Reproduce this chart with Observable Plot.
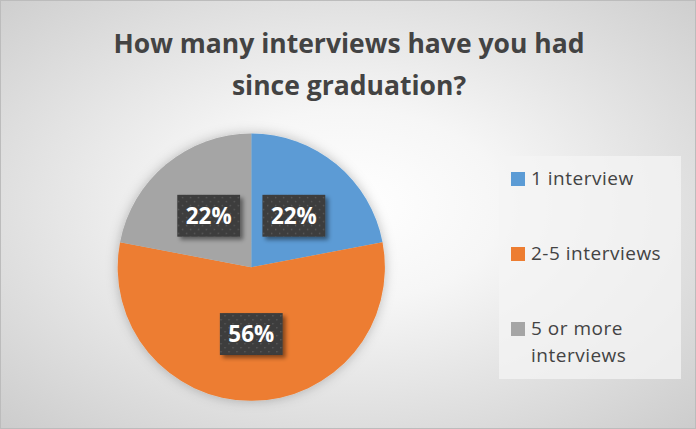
<!DOCTYPE html>
<html>
<head>
<meta charset="utf-8">
<script src="https://cdn.jsdelivr.net/npm/d3@7"></script>
<script src="https://cdn.jsdelivr.net/npm/@observablehq/plot@0.6"></script>
<style>
  body { margin: 0; background: #fff; }
  #chart {
    position: relative; width: 694px; height: 427px; overflow: hidden;
    border: 1px solid #bcbcbc;
    background: radial-gradient(ellipse 75% 75% at 50% 48%, #ffffff 0%, #f6f6f6 30%, #e0e0e0 65%, #cacaca 100%);
    font-family: "Open Sans", "Noto Sans", sans-serif;
  }
  #title {
    position: absolute; left: 0; top: 21px; width: 696px; text-align: center;
    font-weight: 700; font-size: 26.5px; line-height: 42px; color: #434343;
  }
  #legend {
    position: absolute; left: 498px; top: 155px; width: 182px; height: 223px;
    background: rgba(244,244,244,0.75);
  }
  .item { position: absolute; left: 12px; font-size: 19px; letter-spacing: 0.5px; line-height: 27px; color: #434343; }
  .sw { position: absolute; left: 0; top: 6px; width: 14px; height: 14px; }
  .lbl { position: absolute; left: 20px; top: -1px; white-space: nowrap; }
  #plot { position: absolute; left: 0; top: 0; }
</style>
</head>
<body>
<div id="chart">
  <div id="title"></div>
  <div id="legend"></div>
  <div id="plot"></div>
</div>
<script>
const titleLines = ["How many interviews have you had", "since graduation?"];
const categories = ["1 interview", "2-5 interviews", "5 or more interviews"];
const legendLines = [["1 interview"], ["2-5 interviews"], ["5 or more", "interviews"]];
const values = [22, 56, 22];
const labels = ["22%", "56%", "22%"];
const colors = ["#5B9BD5", "#ED7D31", "#A5A5A5"];

const W = 696, H = 429;
const cx = 251, cy = 267, R = 134;

document.getElementById("title").innerHTML = titleLines.join("<br>");

const color = Plot.scale({color: {type: "ordinal", domain: categories, range: colors}});

// legend
const legend = document.getElementById("legend");
legendLines.forEach((lines, i) => {
  const it = document.createElement("div");
  it.className = "item";
  it.style.top = (10 + i * 75) + "px";
  it.innerHTML = `<div class="sw" style="background:${color.apply(categories[i])}"></div><div class="lbl">${lines.join("<br>")}</div>`;
  legend.appendChild(it);
});

const data = categories.map((c, i) => ({category: c, value: values[i], label: labels[i]}));
const arcs = d3.pie().sort(null).value(d => d.value)(data);
const arcGen = d3.arc().innerRadius(0).outerRadius(R);

function pieMark(index, scales) {
  const g = d3.create("svg:g");
  const defs = g.append("defs");
  const f = defs.append("filter").attr("id", "pieShadow").attr("x", "-20%").attr("y", "-20%").attr("width", "140%").attr("height", "140%");
  f.append("feDropShadow").attr("dx", 0).attr("dy", 0).attr("stdDeviation", 6).attr("flood-color", "#000").attr("flood-opacity", 0.25);
  const f2 = defs.append("filter").attr("id", "boxShadow").attr("x", "-30%").attr("y", "-30%").attr("width", "160%").attr("height", "160%");
  f2.append("feDropShadow").attr("dx", 3).attr("dy", 3).attr("stdDeviation", 2).attr("flood-color", "#000").attr("flood-opacity", 0.45);
  const pat = defs.append("pattern").attr("id", "dots").attr("patternUnits", "userSpaceOnUse").attr("width", 8).attr("height", 8);
  pat.append("rect").attr("width", 8).attr("height", 8).attr("fill", "#3c3c3c");
  pat.append("rect").attr("x", 1).attr("y", 1).attr("width", 1.4).attr("height", 1.4).attr("fill", "#5c5c5c");
  pat.append("rect").attr("x", 5).attr("y", 5).attr("width", 1.4).attr("height", 1.4).attr("fill", "#5c5c5c");

  const x0 = scales.x(cx), y0 = scales.y(cy);
  const pg = g.append("g").attr("transform", `translate(${x0},${y0})`).attr("filter", "url(#pieShadow)");
  pg.selectAll("path").data(arcs).join("path")
    .attr("d", arcGen)
    .attr("fill", d => color.apply(d.data.category));

  const lg = g.append("g").attr("transform", `translate(${x0},${y0})`);
  const bw = 63, bh = 42;
  const lab = lg.selectAll("g").data(arcs).join("g")
    .attr("transform", d => { const [x, y] = arcGen.centroid(d); return `translate(${x},${y})`; });
  lab.append("rect")
    .attr("x", -bw / 2).attr("y", -bh / 2).attr("width", bw).attr("height", bh)
    .attr("fill", "url(#dots)").attr("filter", "url(#boxShadow)");
  lab.append("text")
    .attr("text-anchor", "middle").attr("dy", "0.36em")
    .attr("fill", "#fff").attr("font-weight", 700).attr("font-size", 22.5)
    .attr("font-family", "'Open Sans', sans-serif")
    .text(d => d.data.label);
  return g.node();
}

const plot = Plot.plot({
  width: W, height: H,
  margin: 0,
  style: {background: "transparent", overflow: "visible"},
  x: {domain: [0, W], range: [0, W], axis: null},
  y: {domain: [0, H], range: [0, H], axis: null},
  marks: [
    Plot.dot([[0, 0], [W, H]], {x: d => d[0], y: d => d[1], r: 0, stroke: "none"}),
    pieMark
  ]
});
document.getElementById("plot").appendChild(plot);
</script>
</body>
</html>
